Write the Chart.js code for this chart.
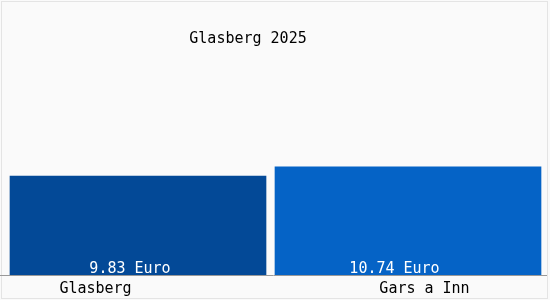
<!DOCTYPE html>
<html>
<head>
<meta charset="utf-8">
<script src="https://cdn.jsdelivr.net/npm/chart.js@4.4.0/dist/chart.umd.min.js"></script>
<style>
  html, body { margin: 0; padding: 0; background: #fafafa; }
  #wrap { width: 550px; height: 300px; position: relative; }
</style>
</head>
<body>
<div id="wrap"><canvas id="priceChart" width="550" height="300"></canvas></div>
<script>
// --- chart data ---
const chartTitle = 'Glasberg 2025';
const places = ['Glasberg', 'Gars a Inn'];
const prices = [9.83, 10.74];
const barColors = ['#034997', '#0563c6'];
const unit = 'Euro';

const monoFont = '"DejaVu Sans Mono", monospace';
const barWidths = [256, 266];

// draws frame, title, baseline and the text labels
const labelPlugin = {
    id: 'labels',
    beforeDraw(chart) {
        const ctx = chart.ctx;
        ctx.save();
        ctx.strokeStyle = '#e4e4e4';
        ctx.lineWidth = 1;
        ctx.strokeRect(1.5, 1.5, 546, 297);
        ctx.restore();
    },
    afterDatasetsDraw(chart) {
        const ctx = chart.ctx;
        const area = chart.chartArea;
        ctx.save();
        ctx.font = '15px ' + monoFont;
        ctx.textBaseline = 'alphabetic';
        ctx.textAlign = 'center';

        ctx.fillStyle = '#000';
        ctx.fillText(chartTitle, 248, 43);

        // baseline
        ctx.strokeStyle = '#999';
        ctx.beginPath();
        ctx.moveTo(0, area.bottom + 0.5);
        ctx.lineTo(547, area.bottom + 0.5);
        ctx.stroke();

        const valueShift = [-8, -13.5];
        const nameShift = [-42.5, 16.5];
        places.forEach((name, i) => {
            const bar = chart.getDatasetMeta(i).data[i];
            ctx.fillStyle = '#fff';
            ctx.fillText(prices[i].toFixed(2) + ' ' + unit, bar.x + valueShift[i], area.bottom - 2);
            ctx.fillStyle = '#000';
            ctx.fillText(name, bar.x + nameShift[i], area.bottom + 18);
        });
        ctx.restore();
    }
};

// one dataset per place so each bar can keep its own width
const datasets = places.map((name, i) => ({
    label: name,
    data: prices.map((v, j) => (j === i ? v : null)),
    backgroundColor: barColors[i],
    borderWidth: 0,
    barThickness: barWidths[i]
}));

new Chart(document.getElementById('priceChart').getContext('2d'), {
    type: 'bar',
    data: { labels: places, datasets: datasets },
    options: {
        responsive: false,
        animation: false,
        layout: { padding: { left: 3, right: 7, top: 25, bottom: 25 } },
        plugins: { legend: { display: false }, tooltip: { enabled: false }, title: { display: false } },
        datasets: { bar: { grouped: false } },
        scales: {
            x: { display: false },
            y: { display: false, min: 0, max: 24.85 }
        }
    },
    plugins: [labelPlugin]
});
</script>
</body>
</html>
